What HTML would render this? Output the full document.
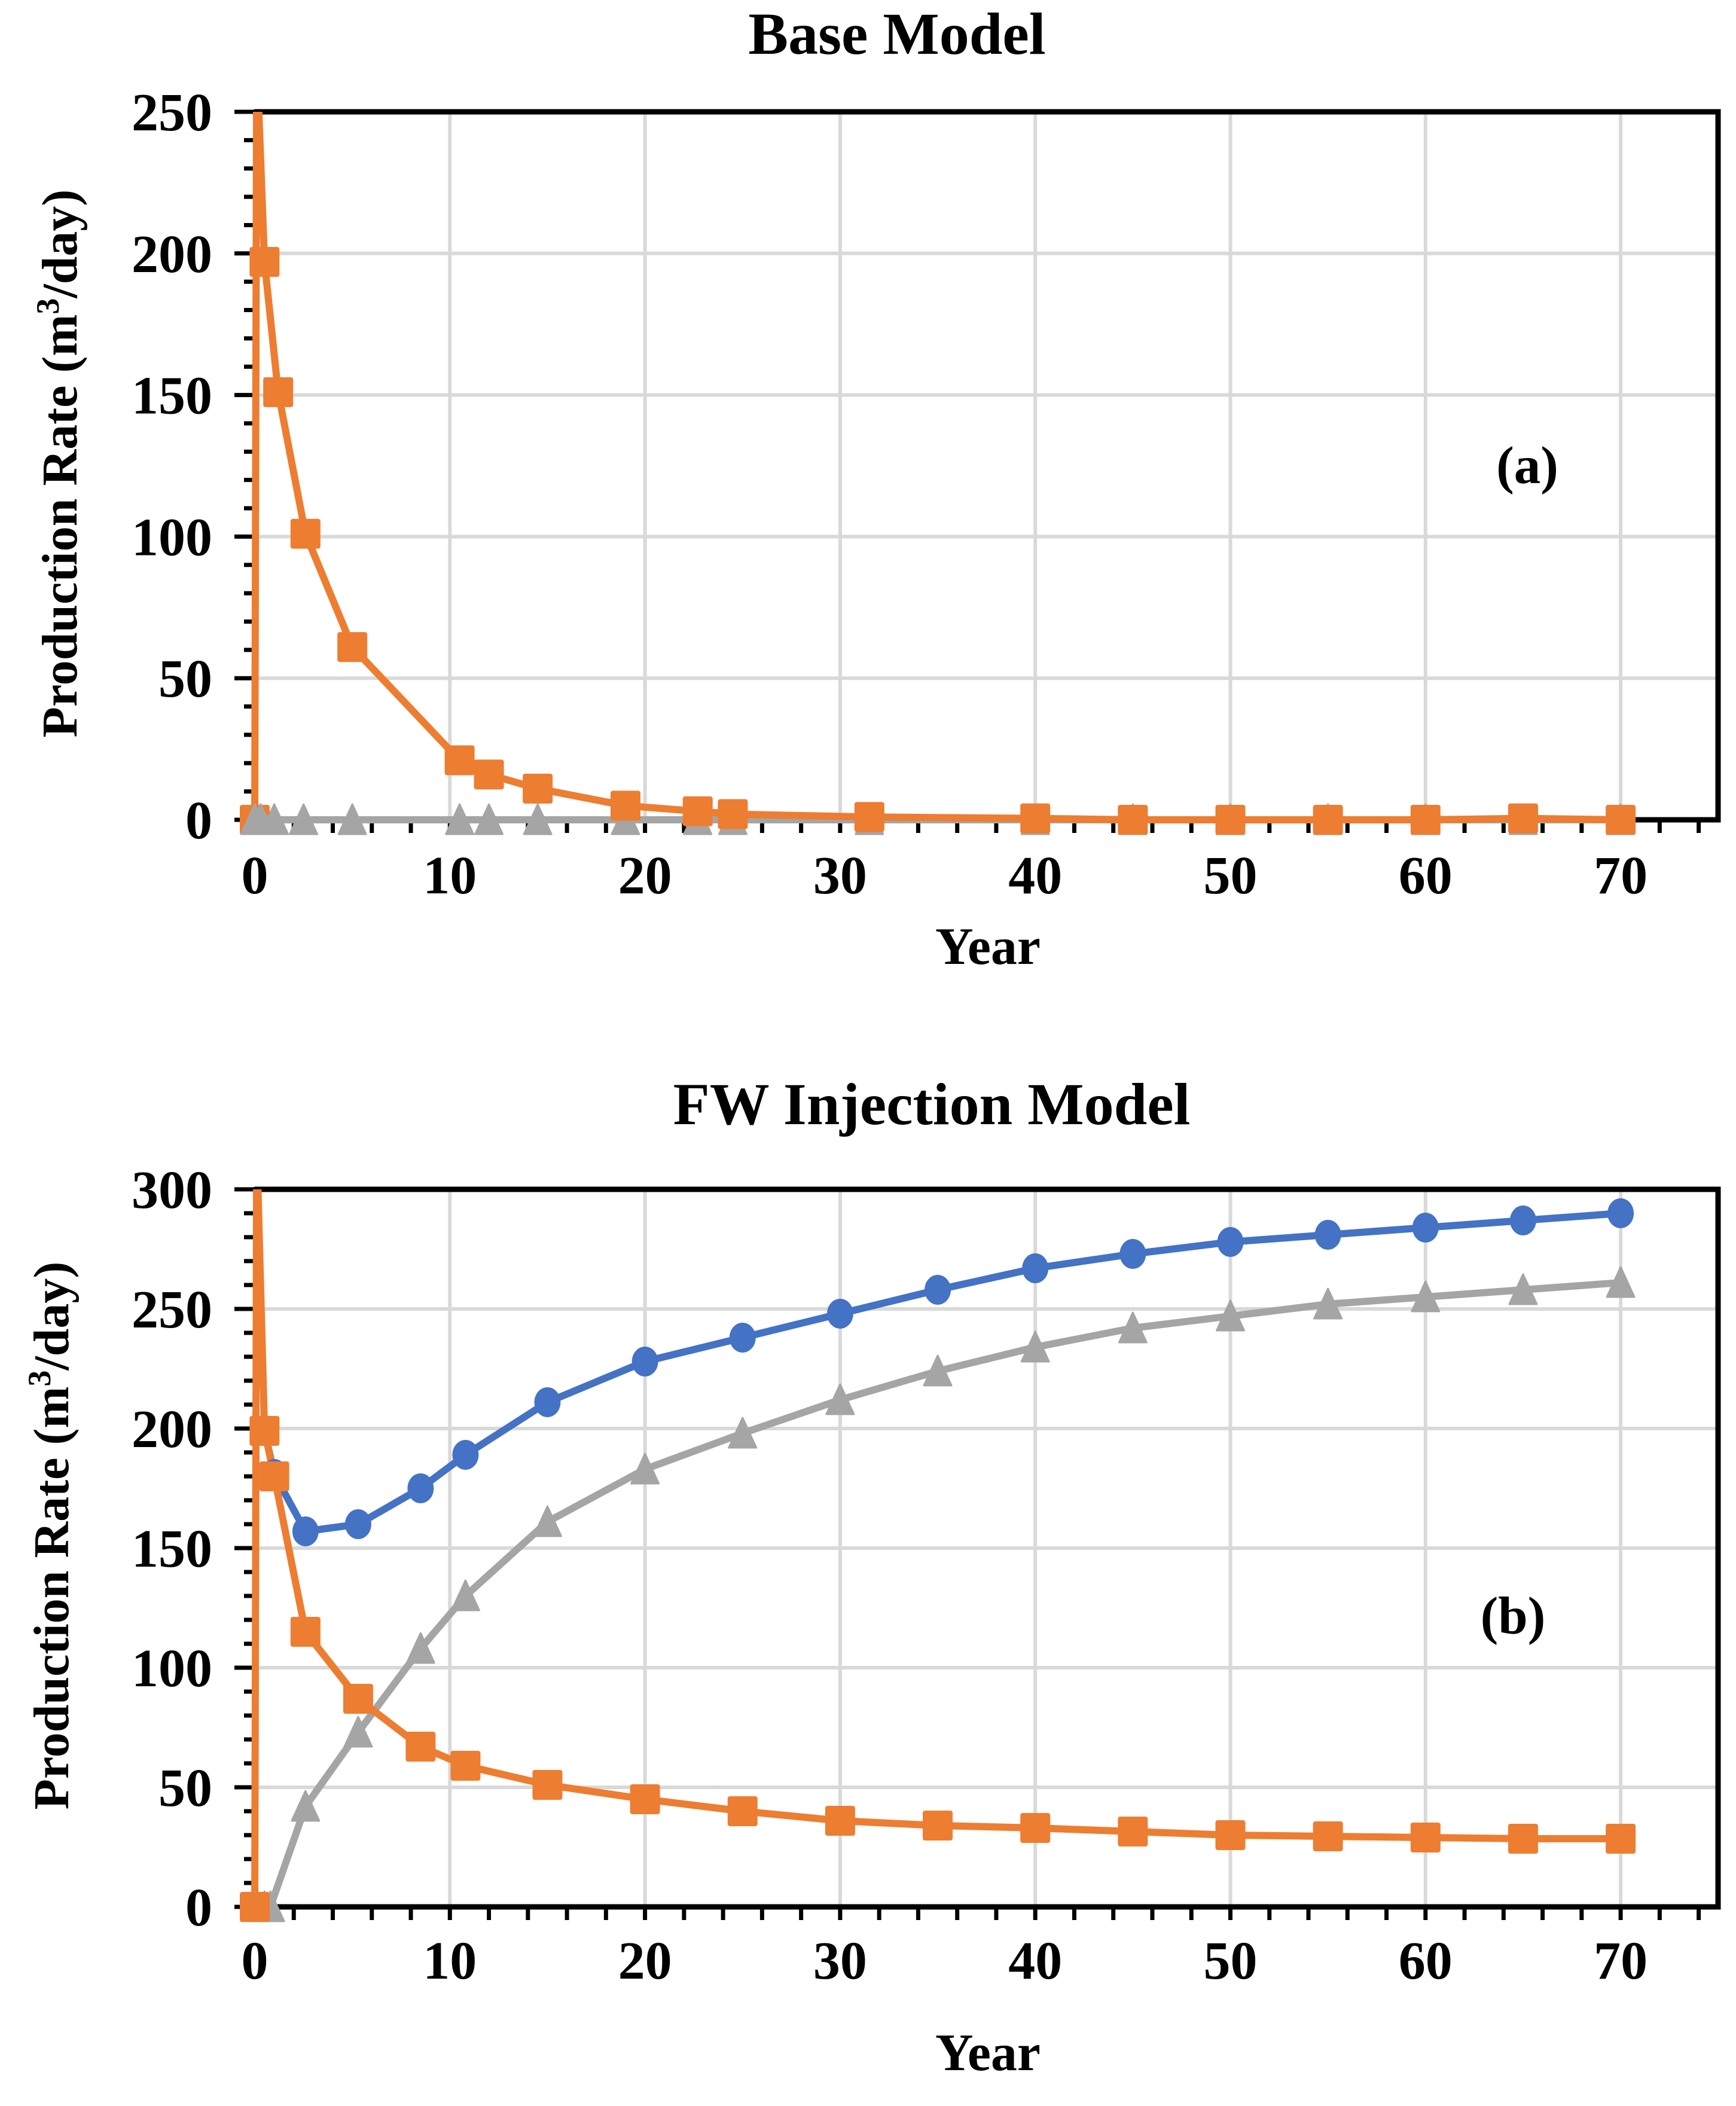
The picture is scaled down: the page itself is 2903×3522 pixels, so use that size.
<!DOCTYPE html>
<html><head><meta charset="utf-8"><style>
html,body{margin:0;padding:0;background:#fff;}
svg{display:block;}
text{font-family:"Liberation Serif",serif;font-weight:bold;fill:#000;}
</style></head><body>
<svg id="chart" width="2903" height="3522" viewBox="0 0 2903 3522" xmlns="http://www.w3.org/2000/svg"></svg>
<script>
// Panel (a) Base Model data
const aOrangeX = [0, 0.1, 0.5, 1.2, 2.6, 5, 10.5, 12, 14.5, 19, 22.7, 24.5, 31.5, 40, 45, 50, 55, 60, 65, 70];
const aOrangeY = [0, 270, 197, 151, 101, 61, 21, 16, 11, 5, 3, 2, 1, 0.5, 0, 0, 0, 0, 0.5, 0];
const aOrangeMarker = [1, 0, 1, 1, 1, 1, 1, 1, 1, 1, 1, 1, 1, 1, 1, 1, 1, 1, 1, 1];
const aGreyX = [0, 0.3, 1, 2.5, 5, 10.5, 12, 14.5, 19, 22.7, 24.5, 31.5, 40, 45, 50, 55, 60, 65, 70];
const aGreyY = [0, 0, 0, 0, 0, 0, 0, 0, 0, 0, 0, 0, 0, 0, 0, 0, 0, 0, 0];
const aYTicks = [0, 50, 100, 150, 200, 250];
// Panel (b) FW Injection Model data
const bOrangeX = [0, 0.1, 0.5, 1, 2.6, 5.3, 8.5, 10.8, 15, 20, 25, 30, 35, 40, 45, 50, 55, 60, 65, 70];
const bOrangeY = [0, 320, 199, 180, 115, 87, 67, 59, 51, 45, 40, 36, 34, 33, 31.5, 30, 29.5, 29, 28.5, 28.5];
const bOrangeMarker = [1, 0, 1, 1, 1, 1, 1, 1, 1, 1, 1, 1, 1, 1, 1, 1, 1, 1, 1, 1];
const bBlueX = [0.5, 1, 2.6, 5.3, 8.5, 10.8, 15, 20, 25, 30, 35, 40, 45, 50, 55, 60, 65, 70];
const bBlueY = [199, 181, 157, 160, 175, 189, 211, 228, 238, 248, 258, 267, 273, 278, 281, 284, 287, 290];
const bGreyX = [0, 0.5, 0.8, 2.6, 5.3, 8.5, 10.8, 15, 20, 25, 30, 35, 40, 45, 50, 55, 60, 65, 70];
const bGreyY = [0, 0, 0, 42, 73, 108, 130, 161, 183, 198, 212, 224, 234, 242, 247, 252, 255, 258, 261];
const bYTicks = [0, 50, 100, 150, 200, 250, 300];
const xTicks = [0, 10, 20, 30, 40, 50, 60, 70];

const NS = "http://www.w3.org/2000/svg";
const svg = document.getElementById('chart');
function el(tag, attrs, parent){ const e=document.createElementNS(NS,tag); for(const k in attrs) e.setAttribute(k,attrs[k]); (parent||svg).appendChild(e); return e; }

const ORANGE='#ed7d31', BLUE='#4472c4', GREY='#a5a5a5';
const X0=426, XR=2873, PX=32.63;

function panel(key, top, bottom, ymax, yTicks, title, titlePos, label, labelPos, series, ylabelPos, xlabY, yearY){
  const g = el('g',{});
  
  
  const sx = v => X0 + v*PX;
  const sy = v => bottom - v*(bottom-top)/ymax;
  const clipId='clip-'+key;
  const cp=el('clipPath',{id:clipId},g); el('rect',{x:X0-10,y:top,width:XR-X0+10,height:bottom-top+12},cp);
  for(const t of yTicks){ if(t===0) continue;
    const l=el('line',{x1:X0,x2:XR,y1:sy(t),y2:sy(t),stroke:'#d9d9d9','stroke-width':6},g);
      }
  for(const t of xTicks){ if(t===0) continue;
    const l=el('line',{x1:sx(t),x2:sx(t),y1:top,y2:bottom,stroke:'#d9d9d9','stroke-width':6},g);
      }
  for(let v=0; v<=ymax; v+=10){
    const major = v%50===0;
    const l=el('line',{x1:X0-(major?34:18),x2:X0,y1:sy(v),y2:sy(v),stroke:'#000','stroke-width':7},g);
     
  }
  for(const t of yTicks){
    const tx=el('text',{x:355,y:sy(t)+31,'text-anchor':'end','font-size':90},g); tx.textContent=t;
     
  }
  for(let v=0; v<=74; v+=2){
    const l=el('line',{x1:sx(v),x2:sx(v),y1:bottom,y2:bottom+22,stroke:'#000','stroke-width':7},g);
     
  }
  for(const t of xTicks){
    const tx=el('text',{x:sx(t),y:xlabY,'text-anchor':'middle','font-size':90},g); tx.textContent=t;
     
  }
  const fr=el('path',{d:`M${X0} ${top} H${XR} V${bottom} H${X0}`,fill:'none',stroke:'#000','stroke-width':9},g);
   
  const ax=el('line',{x1:X0,x2:X0,y1:top-4,y2:bottom+4,stroke:'#000','stroke-width':4},g);
   
  const sg=el('g',{'clip-path':`url(#${clipId})`},g);
  for(const s of series){
    const pts=s.x.map((x,i)=>sx(x)+','+sy(s.y[i])).join(' ');
    const pl=el('polyline',{points:pts,fill:'none',stroke:s.color,'stroke-width':12,'stroke-linejoin':'round'},sg);
     
    s.x.forEach((x,i)=>{
      if(s.mk && !s.mk[i]) return;
      const cx=sx(x), cy=sy(s.y[i]); let m;
      if(s.shape==='square') m=el('rect',{x:cx-25,y:cy-25,width:50,height:50,rx:4,fill:s.color},g);
      else if(s.shape==='circle') m=el('ellipse',{cx:cx,cy:cy,rx:22,ry:25,fill:s.color},g);
      else m=el('path',{d:`M${cx} ${cy-26} L${cx+23} ${cy+24} L${cx-23} ${cy+24} Z`,fill:s.color,'stroke':s.color,'stroke-width':3,'stroke-linejoin':'round'},g);
       
    });
  }
  const tt=el('text',{x:titlePos[0],y:titlePos[1],'text-anchor':'middle','font-size':100},g); tt.textContent=title;
   
  const pl=el('text',{x:labelPos[0],y:labelPos[1],'text-anchor':'middle','font-size':89},g); pl.textContent=label;
   
  const yr=el('text',{x:1652,y:yearY,'text-anchor':'middle','font-size':88},g); yr.textContent='Year';
   
  const yl=el('text',{x:0,y:0,'text-anchor':'middle','font-size':84,transform:`translate(${ylabelPos[0]},${ylabelPos[1]}) rotate(-90)`},g);
   
  yl.appendChild(document.createTextNode('Production Rate (m'));
  const sup=el('tspan',{'font-size':54,dy:-30},yl); sup.textContent='3';
  const rest=el('tspan',{dy:30},yl); rest.textContent='/day)';
}

panel('base',187,1371,250,aYTicks,'Base Model',[1500,90],'(a)',[2554,808],[
  {name:'water-rate',x:aGreyX,y:aGreyY,color:GREY,shape:'tri'},
  {name:'oil-rate',x:aOrangeX,y:aOrangeY,color:ORANGE,shape:'square',mk:aOrangeMarker},
  {name:'water-rate-top',x:aGreyX.slice(0,3),y:aGreyY.slice(0,3),color:GREY,shape:'tri'}
],[128,775],1494,1612);

panel('fw',1989,3189,300,bYTicks,'FW Injection Model',[1558,1880],'(b)',[2530,2732],[
  {name:'liquid-rate',x:bBlueX,y:bBlueY,color:BLUE,shape:'circle'},
  {name:'water-rate',x:bGreyX,y:bGreyY,color:GREY,shape:'tri'},
  {name:'oil-rate',x:bOrangeX,y:bOrangeY,color:ORANGE,shape:'square',mk:bOrangeMarker}
],[114,2568],3309,3462);
</script>
</body></html>
